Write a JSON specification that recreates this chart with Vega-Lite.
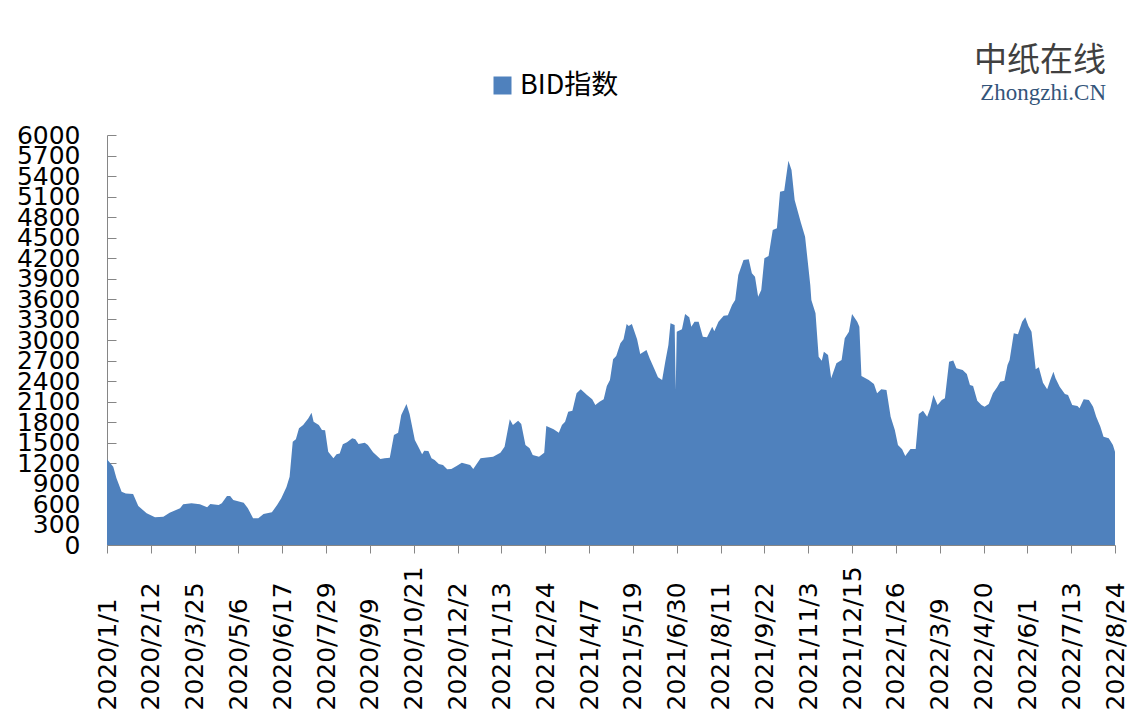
{
  "$schema": "https://vega.github.io/schema/vega-lite/v6.json",
  "autosize": {"type": "none"},
  "width": 1008,
  "height": 410,
  "padding": {"left": 107, "top": 135, "right": 27, "bottom": 172},
  "background": "white",
  "config": {"view": {"stroke": null}, "font": "DejaVu Sans"},
  "title": {
    "text": "中纸在线",
    "subtitle": "Zhongzhi.CN",
    "anchor": "end",
    "orient": "top",
    "offset": -33,
    "dx": -22,
    "font": "Noto Sans CJK SC",
    "fontSize": 33,
    "fontWeight": "normal",
    "color": "#404040",
    "subtitleFont": "Liberation Serif",
    "subtitleFontSize": 23,
    "subtitleColor": "#34557a",
    "subtitlePadding": 4
  },
  "data": {
    "values": [
      {"date": "2020-01-01", "BID": 1254}, {"date": "2020-01-07", "BID": 1146}, {"date": "2020-01-10", "BID": 980}, {"date": "2020-01-15", "BID": 780}, {"date": "2020-01-19", "BID": 755}, {"date": "2020-01-26", "BID": 746}, {"date": "2020-01-31", "BID": 571}, {"date": "2020-02-08", "BID": 464}, {"date": "2020-02-16", "BID": 405}, {"date": "2020-02-24", "BID": 415}, {"date": "2020-03-01", "BID": 473}, {"date": "2020-03-11", "BID": 537}, {"date": "2020-03-14", "BID": 595}, {"date": "2020-03-22", "BID": 610}, {"date": "2020-03-30", "BID": 595}, {"date": "2020-04-06", "BID": 551}, {"date": "2020-04-09", "BID": 600}, {"date": "2020-04-17", "BID": 585}, {"date": "2020-04-20", "BID": 610}, {"date": "2020-04-25", "BID": 717}, {"date": "2020-04-28", "BID": 717}, {"date": "2020-05-01", "BID": 659}, {"date": "2020-05-11", "BID": 620}, {"date": "2020-05-15", "BID": 537}, {"date": "2020-05-20", "BID": 390}, {"date": "2020-05-25", "BID": 390}, {"date": "2020-05-30", "BID": 454}, {"date": "2020-06-07", "BID": 478}, {"date": "2020-06-12", "BID": 585}, {"date": "2020-06-16", "BID": 683}, {"date": "2020-06-21", "BID": 850}, {"date": "2020-06-24", "BID": 1000}, {"date": "2020-06-27", "BID": 1512}, {"date": "2020-06-30", "BID": 1546}, {"date": "2020-07-03", "BID": 1707}, {"date": "2020-07-07", "BID": 1756}, {"date": "2020-07-12", "BID": 1854}, {"date": "2020-07-15", "BID": 1937}, {"date": "2020-07-17", "BID": 1805}, {"date": "2020-07-22", "BID": 1756}, {"date": "2020-07-25", "BID": 1683}, {"date": "2020-07-28", "BID": 1680}, {"date": "2020-07-31", "BID": 1366}, {"date": "2020-08-05", "BID": 1268}, {"date": "2020-08-08", "BID": 1327}, {"date": "2020-08-11", "BID": 1340}, {"date": "2020-08-14", "BID": 1473}, {"date": "2020-08-18", "BID": 1502}, {"date": "2020-08-23", "BID": 1561}, {"date": "2020-08-26", "BID": 1546}, {"date": "2020-08-29", "BID": 1478}, {"date": "2020-09-04", "BID": 1497}, {"date": "2020-09-07", "BID": 1463}, {"date": "2020-09-12", "BID": 1356}, {"date": "2020-09-19", "BID": 1259}, {"date": "2020-09-23", "BID": 1268}, {"date": "2020-09-28", "BID": 1278}, {"date": "2020-10-02", "BID": 1610}, {"date": "2020-10-06", "BID": 1644}, {"date": "2020-10-09", "BID": 1902}, {"date": "2020-10-14", "BID": 2063}, {"date": "2020-10-17", "BID": 1917}, {"date": "2020-10-22", "BID": 1537}, {"date": "2020-10-25", "BID": 1449}, {"date": "2020-10-29", "BID": 1327}, {"date": "2020-10-31", "BID": 1380}, {"date": "2020-11-04", "BID": 1375}, {"date": "2020-11-07", "BID": 1268}, {"date": "2020-11-10", "BID": 1244}, {"date": "2020-11-14", "BID": 1185}, {"date": "2020-11-18", "BID": 1171}, {"date": "2020-11-22", "BID": 1108}, {"date": "2020-11-26", "BID": 1112}, {"date": "2020-12-01", "BID": 1156}, {"date": "2020-12-06", "BID": 1205}, {"date": "2020-12-14", "BID": 1171}, {"date": "2020-12-17", "BID": 1112}, {"date": "2020-12-24", "BID": 1268}, {"date": "2021-01-05", "BID": 1293}, {"date": "2021-01-12", "BID": 1351}, {"date": "2021-01-16", "BID": 1439}, {"date": "2021-01-21", "BID": 1839}, {"date": "2021-01-24", "BID": 1756}, {"date": "2021-01-29", "BID": 1820}, {"date": "2021-02-01", "BID": 1771}, {"date": "2021-02-05", "BID": 1463}, {"date": "2021-02-09", "BID": 1415}, {"date": "2021-02-12", "BID": 1317}, {"date": "2021-02-18", "BID": 1293}, {"date": "2021-02-23", "BID": 1351}, {"date": "2021-02-25", "BID": 1741}, {"date": "2021-03-04", "BID": 1693}, {"date": "2021-03-09", "BID": 1644}, {"date": "2021-03-12", "BID": 1756}, {"date": "2021-03-15", "BID": 1805}, {"date": "2021-03-18", "BID": 1951}, {"date": "2021-03-22", "BID": 1966}, {"date": "2021-03-26", "BID": 2220}, {"date": "2021-03-30", "BID": 2278}, {"date": "2021-04-05", "BID": 2195}, {"date": "2021-04-10", "BID": 2132}, {"date": "2021-04-13", "BID": 2049}, {"date": "2021-04-17", "BID": 2097}, {"date": "2021-04-21", "BID": 2132}, {"date": "2021-04-24", "BID": 2327}, {"date": "2021-04-27", "BID": 2415}, {"date": "2021-04-30", "BID": 2717}, {"date": "2021-05-03", "BID": 2766}, {"date": "2021-05-07", "BID": 2951}, {"date": "2021-05-10", "BID": 3010}, {"date": "2021-05-13", "BID": 3234}, {"date": "2021-05-15", "BID": 3205}, {"date": "2021-05-18", "BID": 3234}, {"date": "2021-05-23", "BID": 3010}, {"date": "2021-05-26", "BID": 2795}, {"date": "2021-06-01", "BID": 2854}, {"date": "2021-06-04", "BID": 2732}, {"date": "2021-06-09", "BID": 2561}, {"date": "2021-06-12", "BID": 2454}, {"date": "2021-06-16", "BID": 2415}, {"date": "2021-06-19", "BID": 2683}, {"date": "2021-06-22", "BID": 2927}, {"date": "2021-06-24", "BID": 3244}, {"date": "2021-06-28", "BID": 3220}, {"date": "2021-06-29", "BID": 2268}, {"date": "2021-06-30", "BID": 3122}, {"date": "2021-07-05", "BID": 3156}, {"date": "2021-07-08", "BID": 3380}, {"date": "2021-07-12", "BID": 3332}, {"date": "2021-07-14", "BID": 3195}, {"date": "2021-07-17", "BID": 3268}, {"date": "2021-07-21", "BID": 3268}, {"date": "2021-07-25", "BID": 3049}, {"date": "2021-07-29", "BID": 3040}, {"date": "2021-08-03", "BID": 3195}, {"date": "2021-08-05", "BID": 3127}, {"date": "2021-08-09", "BID": 3268}, {"date": "2021-08-14", "BID": 3356}, {"date": "2021-08-18", "BID": 3361}, {"date": "2021-08-22", "BID": 3512}, {"date": "2021-08-25", "BID": 3585}, {"date": "2021-08-28", "BID": 3951}, {"date": "2021-09-02", "BID": 4171}, {"date": "2021-09-07", "BID": 4181}, {"date": "2021-09-10", "BID": 3976}, {"date": "2021-09-13", "BID": 3927}, {"date": "2021-09-16", "BID": 3634}, {"date": "2021-09-19", "BID": 3732}, {"date": "2021-09-22", "BID": 4195}, {"date": "2021-09-26", "BID": 4229}, {"date": "2021-09-30", "BID": 4610}, {"date": "2021-10-04", "BID": 4634}, {"date": "2021-10-07", "BID": 5171}, {"date": "2021-10-11", "BID": 5185}, {"date": "2021-10-15", "BID": 5624}, {"date": "2021-10-18", "BID": 5488}, {"date": "2021-10-21", "BID": 5049}, {"date": "2021-10-27", "BID": 4717}, {"date": "2021-10-31", "BID": 4512}, {"date": "2021-11-05", "BID": 3800}, {"date": "2021-11-06", "BID": 3585}, {"date": "2021-11-10", "BID": 3390}, {"date": "2021-11-13", "BID": 2756}, {"date": "2021-11-16", "BID": 2697}, {"date": "2021-11-18", "BID": 2829}, {"date": "2021-11-22", "BID": 2780}, {"date": "2021-11-25", "BID": 2439}, {"date": "2021-11-30", "BID": 2659}, {"date": "2021-12-05", "BID": 2707}, {"date": "2021-12-08", "BID": 3025}, {"date": "2021-12-12", "BID": 3122}, {"date": "2021-12-15", "BID": 3380}, {"date": "2021-12-20", "BID": 3268}, {"date": "2021-12-22", "BID": 3195}, {"date": "2021-12-24", "BID": 2473}, {"date": "2021-12-31", "BID": 2415}, {"date": "2022-01-05", "BID": 2356}, {"date": "2022-01-08", "BID": 2220}, {"date": "2022-01-12", "BID": 2278}, {"date": "2022-01-17", "BID": 2268}, {"date": "2022-01-21", "BID": 1878}, {"date": "2022-01-25", "BID": 1683}, {"date": "2022-01-28", "BID": 1463}, {"date": "2022-02-01", "BID": 1400}, {"date": "2022-02-04", "BID": 1302}, {"date": "2022-02-09", "BID": 1405}, {"date": "2022-02-14", "BID": 1405}, {"date": "2022-02-17", "BID": 1917}, {"date": "2022-02-21", "BID": 1966}, {"date": "2022-02-25", "BID": 1878}, {"date": "2022-02-28", "BID": 2000}, {"date": "2022-03-03", "BID": 2195}, {"date": "2022-03-07", "BID": 2049}, {"date": "2022-03-11", "BID": 2122}, {"date": "2022-03-14", "BID": 2146}, {"date": "2022-03-18", "BID": 2683}, {"date": "2022-03-22", "BID": 2700}, {"date": "2022-03-25", "BID": 2585}, {"date": "2022-03-31", "BID": 2561}, {"date": "2022-04-04", "BID": 2502}, {"date": "2022-04-07", "BID": 2341}, {"date": "2022-04-10", "BID": 2327}, {"date": "2022-04-14", "BID": 2112}, {"date": "2022-04-18", "BID": 2049}, {"date": "2022-04-21", "BID": 2024}, {"date": "2022-04-25", "BID": 2063}, {"date": "2022-04-29", "BID": 2220}, {"date": "2022-05-03", "BID": 2307}, {"date": "2022-05-06", "BID": 2390}, {"date": "2022-05-10", "BID": 2405}, {"date": "2022-05-13", "BID": 2634}, {"date": "2022-05-15", "BID": 2707}, {"date": "2022-05-19", "BID": 3098}, {"date": "2022-05-23", "BID": 3083}, {"date": "2022-05-27", "BID": 3268}, {"date": "2022-05-30", "BID": 3332}, {"date": "2022-06-02", "BID": 3205}, {"date": "2022-06-05", "BID": 3122}, {"date": "2022-06-09", "BID": 2571}, {"date": "2022-06-12", "BID": 2600}, {"date": "2022-06-16", "BID": 2375}, {"date": "2022-06-20", "BID": 2278}, {"date": "2022-06-23", "BID": 2415}, {"date": "2022-06-26", "BID": 2536}, {"date": "2022-06-28", "BID": 2439}, {"date": "2022-07-02", "BID": 2317}, {"date": "2022-07-07", "BID": 2210}, {"date": "2022-07-10", "BID": 2195}, {"date": "2022-07-14", "BID": 2049}, {"date": "2022-07-19", "BID": 2034}, {"date": "2022-07-21", "BID": 2000}, {"date": "2022-07-25", "BID": 2132}, {"date": "2022-07-30", "BID": 2122}, {"date": "2022-08-03", "BID": 2024}, {"date": "2022-08-06", "BID": 1878}, {"date": "2022-08-10", "BID": 1732}, {"date": "2022-08-13", "BID": 1585}, {"date": "2022-08-18", "BID": 1561}, {"date": "2022-08-22", "BID": 1463}, {"date": "2022-08-24", "BID": 1366}
    ]
  },
  "mark": {"type": "area", "interpolate": "linear"},
  "encoding": {
    "x": {
      "field": "date",
      "type": "temporal",
      "scale": {"type": "utc", "domain": [{"year": 2020, "month": 1, "date": 1, "utc": true}, {"year": 2022, "month": 8, "date": 24, "utc": true}], "nice": false},
      "axis": {
        "title": null,
        "format": "%Y/%-m/%-d",
        "values": [
          {"year": 2020, "month": 1, "date": 1, "utc": true},
          {"year": 2020, "month": 2, "date": 12, "utc": true},
          {"year": 2020, "month": 3, "date": 25, "utc": true},
          {"year": 2020, "month": 5, "date": 6, "utc": true},
          {"year": 2020, "month": 6, "date": 17, "utc": true},
          {"year": 2020, "month": 7, "date": 29, "utc": true},
          {"year": 2020, "month": 9, "date": 9, "utc": true},
          {"year": 2020, "month": 10, "date": 21, "utc": true},
          {"year": 2020, "month": 12, "date": 2, "utc": true},
          {"year": 2021, "month": 1, "date": 13, "utc": true},
          {"year": 2021, "month": 2, "date": 24, "utc": true},
          {"year": 2021, "month": 4, "date": 7, "utc": true},
          {"year": 2021, "month": 5, "date": 19, "utc": true},
          {"year": 2021, "month": 6, "date": 30, "utc": true},
          {"year": 2021, "month": 8, "date": 11, "utc": true},
          {"year": 2021, "month": 9, "date": 22, "utc": true},
          {"year": 2021, "month": 11, "date": 3, "utc": true},
          {"year": 2021, "month": 12, "date": 15, "utc": true},
          {"year": 2022, "month": 1, "date": 26, "utc": true},
          {"year": 2022, "month": 3, "date": 9, "utc": true},
          {"year": 2022, "month": 4, "date": 20, "utc": true},
          {"year": 2022, "month": 6, "date": 1, "utc": true},
          {"year": 2022, "month": 7, "date": 13, "utc": true},
          {"year": 2022, "month": 8, "date": 24, "utc": true}
        ],
        "labelAngle": -90,
        "labelAlign": "left",
        "labelBaseline": "middle",
        "labelPadding": 157,
        "labelFontSize": 25,
        "labelFont": "DejaVu Sans",
        "labelColor": "#000000",
        "labelOverlap": false,
        "labelFlush": false,
        "labelBound": false,
        "grid": false,
        "domainColor": "#868686",
        "tickColor": "#868686",
        "tickSize": 8
      }
    },
    "y": {
      "field": "BID",
      "type": "quantitative",
      "scale": {"domain": [0, 6000], "nice": false, "zero": true},
      "axis": {
        "title": null,
        "values": [0, 300, 600, 900, 1200, 1500, 1800, 2100, 2400, 2700, 3000, 3300, 3600, 3900, 4200, 4500, 4800, 5100, 5400, 5700, 6000],
        "format": "d",
        "labelFontSize": 25,
        "labelFont": "DejaVu Sans",
        "labelColor": "#000000",
        "labelOverlap": false,
        "labelFlush": false,
        "labelBound": false,
        "labelPadding": 36,
        "grid": false,
        "domainColor": "#868686",
        "tickColor": "#868686",
        "tickSize": -9
      }
    },
    "color": {
      "datum": "BID指数",
      "type": "nominal",
      "scale": {"range": ["#4F81BD"]},
      "legend": {
        "title": null,
        "orient": "none",
        "legendX": 382,
        "legendY": -63,
        "padding": 0,
        "symbolType": "square",
        "symbolSize": 324,
        "symbolStrokeWidth": 0,
        "symbolOpacity": 1,
        "labelFont": "Noto Sans CJK SC",
        "labelFontSize": 27,
        "labelColor": "#000000",
        "labelOffset": 4
      }
    }
  }
}
